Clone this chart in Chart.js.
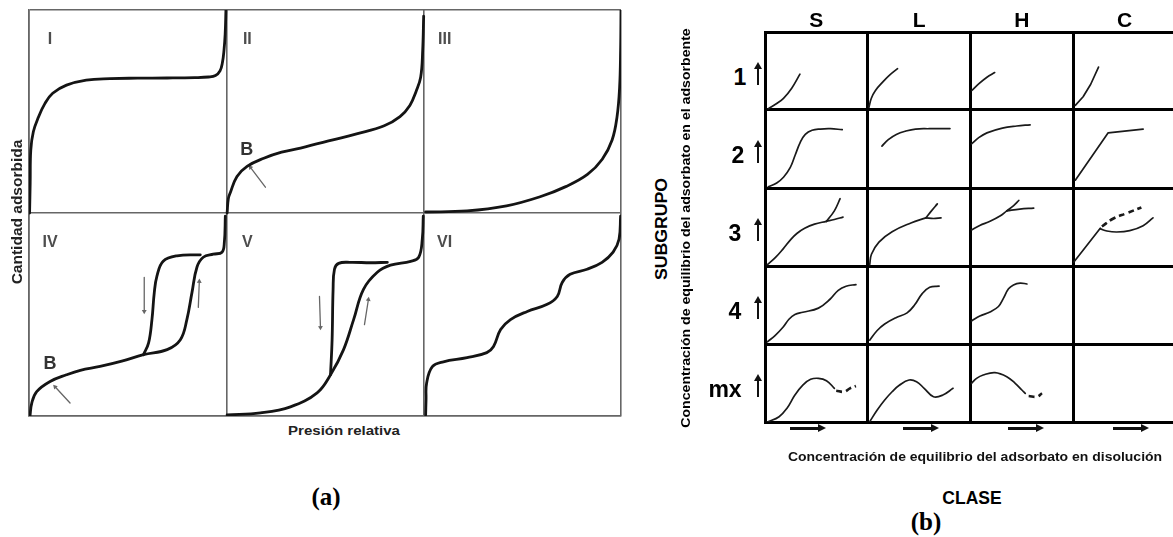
<!DOCTYPE html>
<html><head><meta charset="utf-8">
<script src="https://cdn.jsdelivr.net/npm/chart.js@4.4.1/dist/chart.umd.min.js"></script>
<style>
html,body{margin:0;padding:0;background:#fff}
body{width:1173px;height:537px;overflow:hidden;position:relative;font-family:"Liberation Sans",Arial,sans-serif}
canvas{position:absolute}
.t{position:absolute;white-space:nowrap;transform-origin:0 0;line-height:1}
.ar{position:absolute;background:#111}
.hd{position:absolute;width:0;height:0}
</style></head><body>
<canvas id="chartA" width="604" height="418" style="left:23px;top:4px"></canvas>
<canvas id="chartB" width="427" height="406" style="left:757px;top:24px"></canvas>
<script>
// ---------- Panel (a): IUPAC isotherm types (local cell coords 0..1) ----------
const isoTypes = ['I','II','III','IV','V','VI'];
const typeI_x = [0.003,0.006,0.009,0.022,0.047,0.081,0.12,0.19,0.29,0.41,0.55,0.70,0.84,0.91,0.945,0.968,0.98,0.988,0.994,0.998];
const typeI_y = [0.0,0.15,0.31,0.40,0.47,0.54,0.59,0.63,0.655,0.662,0.664,0.665,0.667,0.670,0.677,0.70,0.74,0.80,0.88,1.0];
const typeII_x = [0.004,0.01,0.02,0.054,0.105,0.19,0.28,0.376,0.54,0.66,0.80,0.88,0.93,0.962,0.985,0.995,1.0];
const typeII_y = [0.0,0.07,0.10,0.18,0.23,0.27,0.30,0.32,0.36,0.39,0.43,0.475,0.53,0.60,0.67,0.80,0.97];
const typeIII_x = [0.01,0.22,0.42,0.59,0.72,0.83,0.905,0.955,0.98,0.993,0.998,1.0];
const typeIII_y = [0.005,0.01,0.035,0.08,0.13,0.19,0.265,0.36,0.475,0.62,0.80,1.0];
const typeIVads_x = [0.005,0.014,0.039,0.107,0.19,0.26,0.36,0.47,0.58,0.70,0.767,0.80,0.826,0.851,0.883,0.934,0.978,0.99,0.995];
const typeIVads_y = [0.0,0.064,0.12,0.17,0.203,0.225,0.244,0.27,0.302,0.327,0.376,0.475,0.609,0.733,0.782,0.797,0.807,0.856,0.985];
const typeIVdes_x = [0.58,0.606,0.623,0.635,0.648,0.68,0.75,0.868];
const typeIVdes_y = [0.302,0.36,0.475,0.609,0.688,0.762,0.789,0.794];
const typeVads_x = [0.004,0.173,0.325,0.46,0.528,0.594,0.645,0.695,0.765,0.832,0.934,0.975,0.993,0.998];
const typeVads_y = [0.005,0.015,0.045,0.114,0.203,0.327,0.475,0.624,0.708,0.743,0.762,0.782,0.871,0.985];
const typeVdes_x = [0.528,0.536,0.541,0.548,0.569,0.63,0.73,0.816];
const typeVdes_y = [0.203,0.376,0.624,0.723,0.752,0.757,0.755,0.757];
const typeVI_x = [0.01,0.012,0.015,0.044,0.10,0.22,0.32,0.354,0.39,0.44,0.525,0.626,0.677,0.702,0.742,0.828,0.904,0.96,0.99,0.998];
const typeVI_y = [0.005,0.08,0.163,0.243,0.267,0.287,0.312,0.342,0.426,0.475,0.515,0.55,0.589,0.658,0.698,0.723,0.757,0.807,0.871,0.985];
// annotation arrows (cell index, tail, head)
const arrowCell  = [1,3,3,3,4,4];
const arrowTailX = [0.198,0.208,0.584,0.858,0.472,0.700];
const arrowTailY = [0.127,0.064,0.683,0.535,0.589,0.450];
const arrowHeadX = [0.122,0.132,0.584,0.863,0.477,0.720];
const arrowHeadY = [0.225,0.144,0.515,0.663,0.436,0.574];
// point "B" labels
const bCell = [1,3];
const bX = [0.104,0.107];
const bY = [0.314,0.26];

// ---------- Panel (b): Giles classification (local cell coords 0..1) ----------
const classes = ['S','L','H','C'];
const subgroups = ['1','2','3','4','mx'];
const S1_x=[0.03,0.11,0.18,0.26,0.34], S1_y=[0.014,0.08,0.15,0.28,0.46];
const L1_x=[0.012,0.035,0.075,0.154,0.215,0.29], L1_y=[0.036,0.15,0.25,0.37,0.45,0.53];
const H1_x=[0.013,0.085,0.16,0.235], H1_y=[0.25,0.34,0.42,0.48];
const C1_x=[0.02,0.096,0.17,0.246], C1_y=[0.06,0.17,0.33,0.55];
const S2_x=[0.032,0.114,0.18,0.245,0.294,0.343,0.392,0.458,0.539,0.637,0.752], S2_y=[0.016,0.065,0.138,0.26,0.423,0.585,0.687,0.74,0.756,0.76,0.748];
const L2_x=[0.138,0.20,0.278,0.37,0.465,0.60,0.80], L2_y=[0.537,0.62,0.687,0.73,0.756,0.76,0.762];
const H2_x=[0.01,0.08,0.16,0.31,0.45,0.58], H2_y=[0.565,0.646,0.707,0.768,0.795,0.81];
const C2_x=[0.02,0.34,0.68], C2_y=[0.10,0.707,0.756];
const S3_x=[0.023,0.10,0.175,0.252,0.31,0.386,0.482,0.598], S3_y=[0.017,0.107,0.217,0.342,0.417,0.483,0.537,0.573];
const S3up_x=[0.598,0.675,0.731], S3up_y=[0.573,0.707,0.863];
const S3lo_x=[0.598,0.675,0.759], S3lo_y=[0.573,0.596,0.627];
const L3_x=[0.019,0.036,0.109,0.237,0.42,0.566], L3_y=[0.017,0.151,0.307,0.44,0.551,0.617];
const L3up_x=[0.566,0.62,0.677], L3up_y=[0.617,0.707,0.796];
const L3lo_x=[0.566,0.64,0.713], L3lo_y=[0.617,0.609,0.617];
const H3_x=[0.01,0.09,0.19,0.287,0.353], H3_y=[0.463,0.52,0.573,0.64,0.707];
const H3up_x=[0.353,0.42,0.47], H3up_y=[0.707,0.773,0.84];
const H3lo_x=[0.353,0.48,0.615], H3lo_y=[0.707,0.729,0.743];
const C3_x=[0.006,0.263], C3_y=[0.05,0.484];
const C3lo_x=[0.263,0.327,0.423,0.55,0.68,0.776], C3lo_y=[0.476,0.449,0.436,0.453,0.516,0.617];
const C3dash_x=[0.279,0.391,0.519,0.663], C3dash_y=[0.507,0.609,0.676,0.751];
const S4_x=[0.023,0.10,0.175,0.233,0.291,0.368,0.52,0.635,0.713,0.789,0.885], S4_y=[0.028,0.111,0.214,0.317,0.379,0.407,0.46,0.577,0.688,0.741,0.762];
const L4_x=[0.019,0.092,0.165,0.274,0.383,0.457,0.53,0.603,0.694], L4_y=[0.049,0.173,0.256,0.337,0.399,0.502,0.646,0.728,0.741];
const H4_x=[0.01,0.091,0.19,0.272,0.32,0.37,0.418,0.483,0.549], H4_y=[0.296,0.358,0.411,0.481,0.584,0.707,0.757,0.781,0.769];
const Smx_x=[0.023,0.137,0.214,0.291,0.368,0.444,0.52,0.598,0.675], Smx_y=[0.0,0.068,0.176,0.346,0.474,0.547,0.56,0.53,0.432];
const Smxdash_x=[0.693,0.77,0.827,0.885], Smxdash_y=[0.401,0.388,0.432,0.462];
const Lmx_x=[0.019,0.092,0.165,0.237,0.31,0.402,0.475,0.549,0.64,0.731,0.83], Lmx_y=[0.004,0.154,0.282,0.388,0.474,0.538,0.517,0.432,0.324,0.346,0.432];
const Hmx_x=[0.01,0.059,0.124,0.238,0.353,0.435,0.5,0.533], Hmx_y=[0.496,0.56,0.603,0.632,0.581,0.496,0.41,0.368];
const Hmxdash_x=[0.566,0.647,0.696], Hmxdash_y=[0.333,0.324,0.368];

// ---------- helpers ----------
function pts(xs, ys, col, row){ return xs.map((v,i)=>({x:col+v, y:row+ys[i]})); }
function baseOptions(xMax, yMax, gridColor, gridWidth, pad){
  const axis = (max)=>({type:'linear', min:0, max:max,
    ticks:{display:false, stepSize:1},
    grid:{color:gridColor, lineWidth:gridWidth, drawTicks:false},
    border:{color:gridColor, width:gridWidth}});
  return {responsive:false, animation:false, events:[],
    layout:{padding:pad},
    plugins:{legend:{display:false}, tooltip:{enabled:false}},
    elements:{point:{radius:0}, line:{tension:0.4, borderCapStyle:'round', borderJoinStyle:'round'}},
    scales:{x:axis(xMax), y:axis(yMax)}};
}

// ---------- chart (a) ----------
const aCurves = [
  [0,typeI_x,typeI_y],[1,typeII_x,typeII_y],[2,typeIII_x,typeIII_y],
  [3,typeIVads_x,typeIVads_y],[3,typeIVdes_x,typeIVdes_y],
  [4,typeVads_x,typeVads_y],[4,typeVdes_x,typeVdes_y],[5,typeVI_x,typeVI_y]];
const cellCol = c => c%3, cellRow = c => (c<3?1:0);
const dsA = aCurves.map(([c,xs,ys])=>({data:pts(xs,ys,cellCol(c),cellRow(c)),
  borderColor:'#141414', borderWidth:2.8, fill:false}));
const sxA = 592/3, syA = 406/2;
arrowCell.forEach((c,i)=>{
  const dx = arrowHeadX[i]-arrowTailX[i], dy = arrowHeadY[i]-arrowTailY[i];
  const rot = Math.atan2(dx*sxA, dy*syA)*180/Math.PI;
  dsA.push({data:[{x:cellCol(c)+arrowTailX[i], y:cellRow(c)+arrowTailY[i]},
                  {x:cellCol(c)+arrowHeadX[i], y:cellRow(c)+arrowHeadY[i]}],
    borderColor:'#666', borderWidth:1.3, tension:0,
    pointRadius:[0,2.8], pointStyle:'triangle', pointRotation:[0,rot],
    pointBackgroundColor:'#666', pointBorderColor:'#666', pointBorderWidth:0});
});
const chartA = new Chart(document.getElementById('chartA'), {type:'line', data:{datasets:dsA},
  options: baseOptions(3, 2, '#666', 1.6, 6)});

// ---------- chart (b) ----------
const bCurves = [
  ['S','1',S1_x,S1_y],['L','1',L1_x,L1_y],['H','1',H1_x,H1_y],['C','1',C1_x,C1_y,'straight'],
  ['S','2',S2_x,S2_y],['L','2',L2_x,L2_y],['H','2',H2_x,H2_y],['C','2',C2_x,C2_y,'straight'],
  ['S','3',S3_x,S3_y],['S','3',S3up_x,S3up_y],['S','3',S3lo_x,S3lo_y],
  ['L','3',L3_x,L3_y],['L','3',L3up_x,L3up_y],['L','3',L3lo_x,L3lo_y],
  ['H','3',H3_x,H3_y],['H','3',H3up_x,H3up_y],['H','3',H3lo_x,H3lo_y],
  ['C','3',C3_x,C3_y,'straight'],['C','3',C3lo_x,C3lo_y],['C','3',C3dash_x,C3dash_y,'dash'],
  ['S','4',S4_x,S4_y],['L','4',L4_x,L4_y],['H','4',H4_x,H4_y],
  ['S','mx',Smx_x,Smx_y],['S','mx',Smxdash_x,Smxdash_y,'dash'],
  ['L','mx',Lmx_x,Lmx_y],
  ['H','mx',Hmx_x,Hmx_y],['H','mx',Hmxdash_x,Hmxdash_y,'dash']];
const dsB = bCurves.map(([cl,sg,xs,ys,style])=>{
  const col = classes.indexOf(cl), row = subgroups.length-1-subgroups.indexOf(sg);
  const d = {data:pts(xs,ys,col,row), borderColor:'#1a1a1a', borderWidth:1.7, fill:false};
  if(style==='straight') d.tension = 0;
  if(style==='dash'){ d.borderDash=[6,4]; d.borderWidth=2.6; d.borderCapStyle='butt'; }
  return d;
});
const chartB = new Chart(document.getElementById('chartB'), {type:'line', data:{datasets:dsB},
  options: baseOptions(4, 5, '#000', 3, {left:8,top:8,right:8,bottom:8})});

// ---------- text & decorations ----------
function addText(txt, cx, cy, o){
  const d = document.createElement('div'); d.className='t'; d.textContent = txt;
  d.style.font = o.font; d.style.color = o.color || '#111';
  d.style.left = cx+'px'; d.style.top = cy+'px';
  document.body.appendChild(d);
  const w = d.offsetWidth;
  const s = o.width ? o.width/w : 1;
  d.style.transform = 'rotate('+(o.rot||0)+'deg) scaleX('+s+') translate(-50%,-50%)';
}
const offA = {x:23, y:4}, offB = {x:757, y:24};
const pxA = (vx,vy)=>({x:offA.x+chartA.scales.x.getPixelForValue(vx), y:offA.y+chartA.scales.y.getPixelForValue(vy)});
const pxB = (vx,vy)=>({x:offB.x+chartB.scales.x.getPixelForValue(vx), y:offB.y+chartB.scales.y.getPixelForValue(vy)});

// cell numerals
isoTypes.forEach((t,i)=>{
  const p = pxA(cellCol(i), cellRow(i)+1);
  addText(t, p.x+21, p.y+29, {font:'bold 16px "Liberation Sans", Arial, sans-serif', color:'#4d4d4d'});
});
bCell.forEach((c,i)=>{
  const p = pxA(cellCol(c)+bX[i], cellRow(c)+bY[i]);
  addText('B', p.x, p.y, {font:'bold 18px "Liberation Sans", Arial, sans-serif', color:'#333'});
});
addText('Cantidad adsorbida', 17, 212, {font:'bold 14px "Liberation Sans", Arial, sans-serif', color:'#222', rot:-90, width:145});
addText('Presión relativa', 344, 430, {font:'bold 13px "Liberation Sans", Arial, sans-serif', color:'#222', width:112});
addText('(a)', 326, 497, {font:'bold 25px "Liberation Serif", "Times New Roman", serif', color:'#000'});

classes.forEach((c,i)=>{
  const p = pxB(i+0.5, 5);
  addText(c, p.x, 20, {font:'bold 21px "Liberation Sans", Arial, sans-serif', color:'#000'});
});
const rowLabelX = [740,738,735,735,725];
subgroups.forEach((s,i)=>{
  const p = pxB(0, subgroups.length-1-i+0.5);
  addText(s, rowLabelX[i], p.y+6, {font:'bold 23px "Liberation Sans", Arial, sans-serif', color:'#000'});
  // up arrow
  const top = p.y - 9, len = 23, cx = 758;
  const sh = document.createElement('div'); sh.className='ar';
  sh.style.cssText += 'left:'+(cx-1.25)+'px;top:'+(top+5)+'px;width:2.5px;height:'+(len-5)+'px';
  document.body.appendChild(sh);
  const hd = document.createElement('div'); hd.className='hd';
  hd.style.cssText += 'left:'+(cx-4)+'px;top:'+top+'px;border-left:4px solid transparent;border-right:4px solid transparent;border-bottom:7px solid #111';
  document.body.appendChild(hd);
});
const hArrowX = [790,903,1008,1113];
hArrowX.forEach(x=>{
  const cy = 428, len = 36;
  const sh = document.createElement('div'); sh.className='ar';
  sh.style.cssText += 'left:'+x+'px;top:'+(cy-1.5)+'px;width:'+(len-7)+'px;height:3px';
  document.body.appendChild(sh);
  const hd = document.createElement('div'); hd.className='hd';
  hd.style.cssText += 'left:'+(x+len-8)+'px;top:'+(cy-4)+'px;border-top:4px solid transparent;border-bottom:4px solid transparent;border-left:8px solid #111';
  document.body.appendChild(hd);
});
addText('SUBGRUPO', 662, 229, {font:'bold 17px "Liberation Sans", Arial, sans-serif', color:'#000', rot:-90, width:102});
addText('Concentración de equilibrio del adsorbato en el adsorbente', 686, 228, {font:'bold 12.5px "Liberation Sans", Arial, sans-serif', color:'#000', rot:-90, width:400});
addText('Concentración de equilibrio del adsorbato en disolución', 975, 456, {font:'bold 13px "Liberation Sans", Arial, sans-serif', color:'#111', width:374});
addText('CLASE', 972, 498, {font:'bold 17.5px "Liberation Sans", Arial, sans-serif', color:'#000', width:59});
addText('(b)', 926, 522, {font:'bold 25px "Liberation Serif", "Times New Roman", serif', color:'#000'});
</script>
</body></html>
